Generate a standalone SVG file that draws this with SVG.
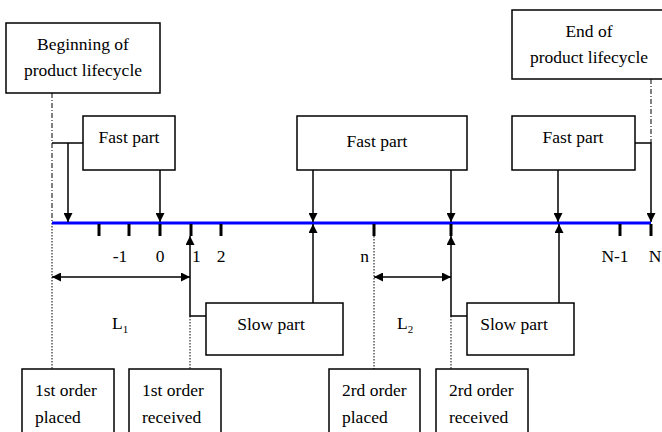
<svg xmlns="http://www.w3.org/2000/svg" width="662" height="432" viewBox="0 0 662 432">
<defs>
<marker id="ah" viewBox="0 0 10 10" refX="10" refY="5" markerWidth="11" markerHeight="9" markerUnits="userSpaceOnUse" orient="auto-start-reverse">
<path d="M0,0 L10,5 L0,10 z" fill="#000"/>
</marker>
<style>
.box{fill:#fff;stroke:#000;stroke-width:1.5}
.t{font-family:"Liberation Serif","Times New Roman",serif;font-size:17.5px;fill:#000}
.m{text-anchor:middle}
.ln{fill:none;stroke:#000;stroke-width:1.5}
.ar{fill:none;stroke:#000;stroke-width:1.5;marker-end:url(#ah)}
.da{fill:none;stroke:#000;stroke-width:1.5;marker-start:url(#ah);marker-end:url(#ah)}
.dot{fill:none;stroke:#000;stroke-width:1;stroke-dasharray:1.5 1.5}
.dd{fill:none;stroke:#000;stroke-width:1;stroke-dasharray:5 2 1 2}
.tick{stroke:#000;stroke-width:3}
</style>
</defs>
<g id="connectors">
<line class="dd" x1="52" y1="93" x2="52" y2="223"/>
<line class="dot" x1="52" y1="223" x2="52" y2="369"/>
<line class="dd" x1="651" y1="79" x2="651" y2="143"/>
<line class="dot" x1="190" y1="316" x2="190" y2="369"/>
<line class="dot" x1="374" y1="236" x2="374" y2="369"/>
<line class="dot" x1="451" y1="316" x2="451" y2="369"/>
<line x1="52" y1="223" x2="651" y2="223" stroke="#0000ff" stroke-width="3"/>
<g>
<line class="tick" x1="99" y1="224" x2="99" y2="236"/>
<line class="tick" x1="129" y1="224" x2="129" y2="236"/>
<line class="tick" x1="160" y1="224" x2="160" y2="236"/>
<line class="tick" x1="191" y1="224" x2="191" y2="236"/>
<line class="tick" x1="221" y1="224" x2="221" y2="236"/>
<line class="tick" x1="374" y1="224" x2="374" y2="236"/>
<line class="tick" x1="451" y1="224" x2="451" y2="236"/>
<line class="tick" x1="620" y1="224" x2="620" y2="236"/>
<line class="tick" x1="651" y1="224" x2="651" y2="236"/>
</g>
<polyline class="ln" points="52,143 83,143"/>
<polyline class="ar" points="68,143 68,222"/>
<polyline class="ar" points="160,170 160,222"/>
<polyline class="ar" points="313,170 313,222"/>
<polyline class="ar" points="451,170 451,222"/>
<polyline class="ar" points="558,170 558,222"/>
<polyline class="ar" points="635,143 651,143 651,222"/>
<polyline class="ar" points="206,316 190,316 190,236"/>
<polyline class="ar" points="313,303 313,224"/>
<polyline class="ar" points="467,316 451,316 451,236"/>
<polyline class="ar" points="559,303 559,224"/>
<line class="da" x1="52" y1="277" x2="190" y2="277"/>
<line class="da" x1="374" y1="277" x2="451" y2="277"/>
</g>
<g id="labels">
<text class="t" x="120" y="262" text-anchor="middle">-1</text>
<text class="t m" x="160" y="262">0</text>
<text class="t" x="192" y="262">1</text>
<text class="t m" x="221" y="262">2</text>
<text class="t" x="369" y="262" text-anchor="end">n</text>
<text class="t m" x="615" y="262">N-1</text>
<text class="t m" x="655" y="262">N</text>
<text class="t" x="112" y="329">L<tspan font-size="11" dy="4">1</tspan></text>
<text class="t" x="397" y="329">L<tspan font-size="11" dy="4">2</tspan></text>
</g>
<g id="begin">
<rect class="box" x="6" y="23" width="154" height="70"/>
<text class="t m" x="83" y="50">Beginning of</text>
<text class="t m" x="83" y="76">product lifecycle</text>
</g>
<g id="end">
<rect class="box" x="512" y="10" width="152" height="69"/>
<text class="t m" x="589" y="37">End of</text>
<text class="t m" x="589" y="63">product lifecycle</text>
</g>
<g id="fast1">
<rect class="box" x="83" y="116" width="92" height="54"/>
<text class="t m" x="129" y="143">Fast part</text>
</g>
<g id="fast2">
<rect class="box" x="297" y="116" width="170" height="54"/>
<text class="t m" x="377" y="147">Fast part</text>
</g>
<g id="fast3">
<rect class="box" x="512" y="116" width="123" height="54"/>
<text class="t m" x="573" y="143">Fast part</text>
</g>
<g id="slow1">
<rect class="box" x="206" y="303" width="137" height="52"/>
<text class="t m" x="271" y="330">Slow part</text>
</g>
<g id="slow2">
<rect class="box" x="467" y="303" width="107" height="52"/>
<text class="t m" x="514" y="330">Slow part</text>
</g>
<g id="o1p">
<rect class="box" x="22" y="369" width="92" height="80"/>
<text class="t" x="35" y="396">1st order</text>
<text class="t" x="35" y="423">placed</text>
</g>
<g id="o1r">
<rect class="box" x="129" y="369" width="92" height="80"/>
<text class="t" x="142" y="396">1st order</text>
<text class="t" x="142" y="423">received</text>
</g>
<g id="o2p">
<rect class="box" x="329" y="369" width="91" height="80"/>
<text class="t" x="342" y="396">2rd order</text>
<text class="t" x="342" y="423">placed</text>
</g>
<g id="o2r">
<rect class="box" x="436" y="369" width="92" height="80"/>
<text class="t" x="449" y="396">2rd order</text>
<text class="t" x="449" y="423">received</text>
</g>
</svg>
